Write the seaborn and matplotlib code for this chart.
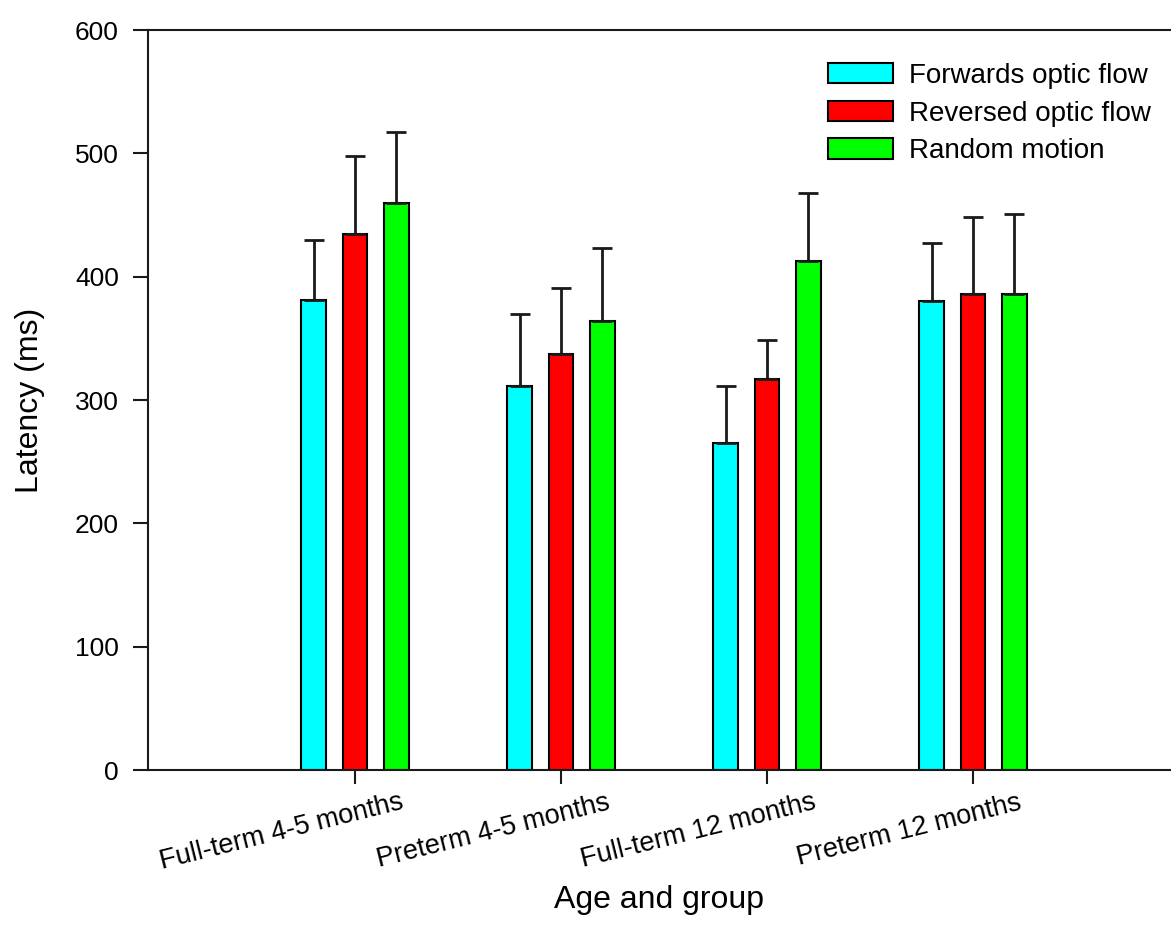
import numpy as np
import pandas as pd
import matplotlib
matplotlib.use("Agg")
import matplotlib.pyplot as plt
from matplotlib.transforms import ScaledTranslation
import seaborn as sns

groups = ["Full-term 4-5 months", "Preterm 4-5 months", "Full-term 12 months", "Preterm 12 months"]
conditions = ["Forwards optic flow", "Reversed optic flow", "Random motion"]
forwards = [381, 311, 265, 380]
reversed_flow = [435, 337, 317, 386]
random_motion = [460, 364, 413, 386]
forwards_err = [49, 59, 46, 47]
reversed_err = [63, 54, 32, 62]
random_err = [57, 59, 55, 65]
colors = ["#00FFFF", "#FF0000", "#00FF00"]

means = [forwards, reversed_flow, random_motion]
errs = [forwards_err, reversed_err, random_err]

rows = []
for c, vals in zip(conditions, means):
    for g, v in zip(groups, vals):
        rows.append({"group": g, "condition": c, "latency": v})
df = pd.DataFrame(rows)

sns.set_style("ticks")
plt.rcParams["font.family"] = ["Liberation Sans", "DejaVu Sans"]
plt.rcParams["text.color"] = "black"
plt.rcParams["axes.labelcolor"] = "black"
plt.rcParams["xtick.color"] = "black"
plt.rcParams["ytick.color"] = "black"

fig = plt.figure(figsize=(11.71, 9.4), dpi=100)
ax = fig.add_axes([148 / 1171, 170 / 940, 1 - 148 / 1171, 740 / 940])

sns.barplot(data=df, x="group", y="latency", hue="condition", order=groups,
            hue_order=conditions, palette=colors, width=0.6, gap=0.4,
            edgecolor="black", linewidth=1.5, errorbar=None, saturation=1, ax=ax)

for cont, e in zip(ax.containers, errs):
    xs = [p.get_x() + p.get_width() / 2 for p in cont.patches]
    hs = [p.get_height() for p in cont.patches]
    ax.errorbar(xs, hs, yerr=[np.zeros(len(e)), e], fmt="none", ecolor="#1a1a1a",
                elinewidth=2, capsize=7.5, capthick=2, zorder=1)

ax.set_ylim(0, 600)
ax.set_yticks([0, 100, 200, 300, 400, 500, 600])
ax.set_xlim(-1.005, 3.961)

for s in ["left", "bottom", "top"]:
    ax.spines[s].set_linewidth(1.5)
    ax.spines[s].set_color("#1a1a1a")
ax.spines["right"].set_visible(False)

ax.tick_params(axis="y", direction="out", length=11, width=1.5, labelsize=19, pad=10, color="#1a1a1a")
ax.tick_params(axis="x", direction="out", length=10, width=1.5, labelsize=19.5, pad=18, color="#1a1a1a")

ax.set_xticks(range(len(groups)))
ax.set_xticklabels(groups)
off = ScaledTranslation(0.5, 0, fig.dpi_scale_trans)
for lbl in ax.get_xticklabels():
    lbl.set_rotation(14)
    lbl.set_ha("right")
    lbl.set_va("baseline")
    lbl.set_rotation_mode("anchor")
    lbl.set_transform(lbl.get_transform() + off)

ax.set_xlabel("Age and group", fontsize=23, va="center")
ax.xaxis.set_label_coords(0.5, (770 - 900) / 740)
ax.set_ylabel("Latency (ms)", fontsize=23, va="center")
ax.yaxis.set_label_coords((30 - 148) / 1023, 0.5)

handles, labels = ax.get_legend_handles_labels()
ax.legend(handles, labels, loc="upper left", bbox_to_anchor=(828 / 1171, 1 - 63 / 940),
          bbox_transform=fig.transFigure, frameon=False, fontsize=20,
          handlelength=2.35, handleheight=0.75, handletextpad=0.55,
          borderpad=0, borderaxespad=0, labelspacing=0.42)

fig.savefig("out.png", dpi=100)
